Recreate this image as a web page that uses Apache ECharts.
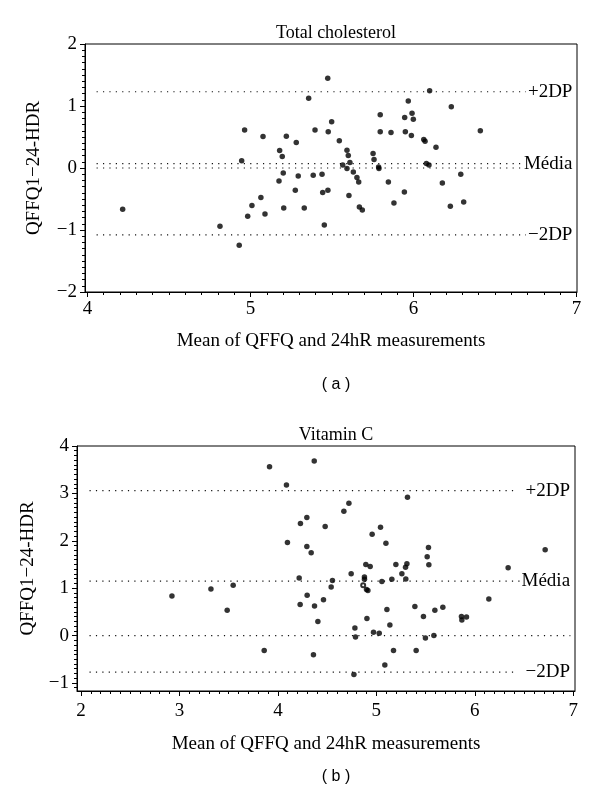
<!DOCTYPE html>
<html><head><meta charset="utf-8">
<script src="https://cdn.jsdelivr.net/npm/echarts@6/dist/echarts.min.js"></script>
<style>html,body{margin:0;padding:0;background:#fff}#c{width:600px;height:802px}</style>
</head><body><div id="c"></div>
<script>
// ---------- Panel (a): Total cholesterol ----------
const cholMean = [4.216,4.813,4.931,4.946,4.964,4.983,5.009,5.064,5.077,5.089,5.179,5.195,5.201,5.175,5.275,5.204,5.330,5.220,5.281,5.293,5.357,5.396,5.385,
  5.474,5.439,5.443,5.475,5.453,5.477,5.498,5.545,5.592,5.600,5.566,5.592,5.610,5.631,5.653,5.664,5.604,5.668,5.686,5.752,5.758,5.786,5.788,5.796,5.796,5.862,5.846,5.880,5.944,5.946,5.968,5.991,5.999,5.950,5.987,6.099,6.063,6.071,6.138,6.079,6.095,6.177,6.232,6.226,6.290,6.308,6.410];
const cholDiff = [-0.666,-0.94,-1.247,0.115,0.611,-0.779,-0.606,-0.477,0.509,-0.741,0.283,0.186,-0.079,-0.208,-0.359,-0.645,-0.645,0.514,0.412,-0.128,1.123,0.611,-0.116,
  1.446,-0.100,-0.396,-0.359,-0.919,0.583,0.745,0.438,0.288,0.202,0.050,-0.008,0.089,-0.063,-0.154,-0.224,-0.445,-0.628,-0.677,0.234,0.137,0.018,-0.010,0.858,0.583,0.573,-0.224,-0.564,-0.386,0.815,1.079,0.885,0.788,0.583,0.525,1.246,0.460,0.433,0.336,0.073,0.050,-0.240,0.988,-0.617,-0.100,-0.547,0.600];
const cholRefNames = ['+2DP','Média','−2DP'];
const cholRefValues = [1.23, 0.07, -1.08];
const cholXTicks = [4,5,6,7];
const cholYTicks = [-2,-1,0,1,2];

// ---------- Panel (b): Vitamin C ----------
const vitcMean = [2.924,3.320,3.546,3.485,3.861,3.915,4.087,4.097,4.229,4.294,4.294,4.338,4.216,4.297,4.226,4.372,4.406,4.361,4.369,4.480,4.463,4.554,4.541,4.744,4.670,4.721,4.782,4.788,4.772,4.879,4.879,4.893,4.937,4.900,4.914,4.904,4.957,5.042,5.097,4.971,5.029,5.056,5.107,5.137,5.086,5.174,5.157,5.198,5.259,5.296,5.310,5.299,5.316,5.391,5.404,5.478,5.498,5.529,5.516,5.533,5.584,5.594,5.675,5.864,5.868,5.915,6.142,6.338,6.714];
const vitcDiff = [0.834,0.985,1.062,0.536,-0.316,3.563,3.177,1.963,2.366,2.491,1.879,1.748,1.214,0.848,0.653,0.626,0.299,-0.407,3.682,2.303,0.757,1.160,1.027,1.306,2.622,2.794,0.162,-0.033,-0.82,1.235,1.187,1.499,1.457,0.973,0.952,0.362,2.137,2.283,1.950,0.071,0.050,1.139,0.549,0.224,-0.622,-0.316,1.187,1.499,1.306,1.443,1.513,1.193,2.919,0.611,-0.316,0.403,-0.054,1.859,1.665,1.493,0.002,0.536,0.599,0.403,0.328,0.391,0.771,1.430,1.811];
const vitcOpenMean = [4.866];
const vitcOpenDiff = [1.062];
const vitcRefNames = ['+2DP','Média','−2DP'];
const vitcRefValues = [3.06, 1.15, -0.77];
const vitcXTicks = [2,3,4,5,6,7];
const vitcYTicks = [-1,0,1,2,3,4];

const titles = ['Total cholesterol','Vitamin C'];
const panelTags = ['( a )','( b )'];
const xName = 'Mean of QFFQ and 24hR measurements';
const yName = 'QFFQ1\u221224-HDR';

// ---------- build ----------
const SERIF = 'Liberation Serif';
const zip = (a,b) => a.map((v,i)=>[v,b[i]]);
function tenths(min,max){const r=[];for(let k=Math.ceil(min*10-1e-9);k<=Math.floor(max*10+1e-9);k++)r.push(+(k/10).toFixed(1));return r;}

const panels = [
  {grid:{left:85,top:44,width:492,height:248}, xMin:3.985, xMax:7.003, yMin:-2, yMax:2,
   xTicks:cholXTicks, yTicks:cholYTicks, pts:zip(cholMean,cholDiff), open:[],
   refNames:cholRefNames, refValues:cholRefValues,
   lineStart:4.056, lineEnds:[6.69,6.67,6.69], zeroEnd:6.67, labelX:6.975,
   xLabelMargin:8, xNameGap:40, yNameGap:41},
  {grid:{left:77,top:446,width:498,height:245}, xMin:1.96, xMax:7.017, yMin:-1.17, yMax:4,
   xTicks:vitcXTicks, yTicks:vitcYTicks, pts:zip(vitcMean,vitcDiff), open:zip(vitcOpenMean,vitcOpenDiff),
   refNames:vitcRefNames, refValues:vitcRefValues,
   lineStart:2.087, lineEnds:[6.42,6.46,6.43], zeroEnd:6.97, labelX:6.967,
   xLabelMargin:11, xNameGap:44, yNameGap:33}
];

const grid=[], xAxis=[], yAxis=[], series=[], title=[];
const FS = 19;
const txt = {fontFamily:SERIF, fontSize:FS, color:'#000'};
const dotted = {type:[1.2,5.2], color:'#111', width:1.2};

panels.forEach((p,i)=>{
  grid.push(Object.assign({show:true, borderColor:'#000', borderWidth:1, containLabel:false}, p.grid));
  const xi = xAxis.length, yi = yAxis.length;
  xAxis.push({type:'value', gridIndex:i, position:'bottom', min:p.xMin, max:p.xMax,
    axisLine:{show:true, onZero:false, lineStyle:{color:'#000', width:1}},
    axisTick:{show:true, inside:false, length:5, customValues:p.xTicks, lineStyle:{color:'#000'}},
    axisLabel:Object.assign({customValues:p.xTicks, margin:p.xLabelMargin}, txt),
    splitLine:{show:false},
    name:xName, nameLocation:'middle', nameGap:p.xNameGap, nameTextStyle:Object.assign({}, txt)});
  xAxis.push({type:'value', gridIndex:i, position:'bottom', min:p.xMin, max:p.xMax,
    axisLine:{show:false, onZero:false}, axisLabel:{show:false}, splitLine:{show:false},
    axisTick:{show:true, inside:false, length:3, customValues:tenths(p.xMin,p.xMax), lineStyle:{color:'#000'}}});
  yAxis.push({type:'value', gridIndex:i, position:'left', min:p.yMin, max:p.yMax,
    axisLine:{show:true, onZero:false, lineStyle:{color:'#000', width:1}},
    axisTick:{show:true, inside:false, length:5, customValues:p.yTicks, lineStyle:{color:'#000'}},
    axisLabel:Object.assign({customValues:p.yTicks, margin:8, formatter:v=>String(v).replace('-','\u2212')}, txt),
    splitLine:{show:false},
    name:yName, nameLocation:'middle', nameGap:p.yNameGap, nameRotate:90, nameTextStyle:Object.assign({}, txt)});
  yAxis.push({type:'value', gridIndex:i, position:'left', min:p.yMin, max:p.yMax,
    axisLine:{show:false, onZero:false}, axisLabel:{show:false}, splitLine:{show:false},
    axisTick:{show:true, inside:false, length:3, customValues:tenths(p.yMin,p.yMax), lineStyle:{color:'#000'}}});

  // reference lines (mean ± 2 SD) and zero line
  p.refValues.forEach((v,k)=>{
    series.push({type:'line', xAxisIndex:xi, yAxisIndex:yi, silent:true, symbol:'none', animation:false,
      data:[[p.lineStart,v],[p.lineEnds[k],v]], lineStyle:dotted, z:1});
  });
  series.push({type:'line', xAxisIndex:xi, yAxisIndex:yi, silent:true, symbol:'none', animation:false,
    data:[[p.lineStart,0],[p.zeroEnd,0]], lineStyle:dotted, z:1});
  // reference line labels
  series.push({type:'scatter', xAxisIndex:xi, yAxisIndex:yi, silent:true, animation:false,
    symbol:'circle', symbolSize:0, itemStyle:{color:'#000', opacity:1},
    data:p.refValues.map((v,k)=>({value:[p.labelX,v], name:p.refNames[k]})),
    label:Object.assign({show:true, position:'left', distance:0, align:'right', formatter:d=>d.name, opacity:1}, txt), z:2});
  // points
  series.push({type:'scatter', xAxisIndex:xi, yAxisIndex:yi, animation:false, symbol:'circle', symbolSize:5.5,
    itemStyle:{color:'#000'}, data:p.pts, z:3});
  if(p.open.length){
    series.push({type:'scatter', xAxisIndex:xi, yAxisIndex:yi, animation:false, symbol:'emptyCircle', symbolSize:4,
      itemStyle:{color:'#000', borderColor:'#000', borderWidth:1}, data:p.open, z:3});
  }
  title.push({text:titles[i], left:331, top:p.grid.top-25, textAlign:'center',
    textStyle:{fontFamily:SERIF, fontSize:18, fontWeight:'normal', color:'#000'}});
});
title.push({text:panelTags[0], left:331, top:372, textAlign:'center', textStyle:{fontFamily:'Liberation Sans', fontSize:16, fontWeight:'normal', color:'#000'}});
title.push({text:panelTags[1], left:331, top:764, textAlign:'center', textStyle:{fontFamily:'Liberation Sans', fontSize:16, fontWeight:'normal', color:'#000'}});

const chart = echarts.init(document.getElementById('c'), null, {renderer:'canvas'});
chart.setOption({backgroundColor:'#fff', animation:false, title, grid, xAxis, yAxis, series});
</script>
</body></html>
